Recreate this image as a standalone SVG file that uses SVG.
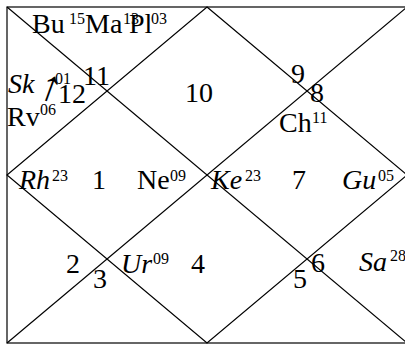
<svg xmlns="http://www.w3.org/2000/svg" width="405" height="344" viewBox="0 0 405 344">
<style>
text{font-family:"Liberation Serif","Times New Roman",serif;fill:#000}
.m{font-size:28px}
.s{font-size:16px}
.i{font-style:italic}
.ar{font-size:44px}
.ln{stroke:#000;stroke-width:1.2;fill:none}
</style>
<rect x="0" y="0" width="405" height="344" fill="#fff"/>
<g id="connectors" class="ln">
<rect x="7" y="7" width="400" height="336"/>
<line x1="7" y1="7" x2="407" y2="343"/>
<line x1="407" y1="7" x2="7" y2="343"/>
<polygon points="207,7 407,175 207,343 7,175"/>
</g>
<g id="house-top-left">
<text class="m" x="32" y="33">Bu</text><text class="s" x="69" y="24">15</text>
<text class="m" x="85" y="33">Ma</text><text class="s" x="123" y="24">13</text>
<text class="m" x="129" y="33">Pl</text><text class="s" x="151" y="24">03</text>
<text class="m" x="83" y="85">11</text>
</g>
<g id="house-left-upper">
<text class="m i" x="8" y="93">Sk</text><text class="ar" x="0" y="0" transform="translate(36 96) rotate(20)">↑</text><text class="s" x="55" y="84">01</text>
<text class="m" x="58" y="103">12</text>
<text class="m" x="7" y="126">Rv</text><text class="s" x="40" y="115">06</text>
</g>
<g id="house-top-center">
<text class="m" x="185" y="102">10</text>
</g>
<g id="house-top-right">
<text class="m" x="291" y="83">9</text>
</g>
<g id="house-right-upper">
<text class="m" x="310" y="102">8</text>
<text class="m" x="279" y="132">Ch</text><text class="s" x="312" y="123">11</text>
</g>
<g id="house-left-center">
<text class="m i" x="19" y="189">Rh</text><text class="s" x="52" y="181">23</text>
<text class="m" x="92" y="189">1</text>
<text class="m" x="137" y="189">Ne</text><text class="s" x="170" y="181">09</text>
</g>
<g id="house-right-center">
<text class="m i" x="211" y="189">Ke</text><text class="s" x="245" y="181">23</text>
<text class="m" x="292" y="189">7</text>
<text class="m i" x="342" y="189">Gu</text><text class="s" x="378" y="181">05</text>
</g>
<g id="house-left-lower">
<text class="m" x="66" y="273">2</text>
</g>
<g id="house-bottom-left">
<text class="m" x="93" y="288">3</text>
</g>
<g id="house-bottom-center">
<text class="m i" x="121" y="273">Ur</text><text class="s" x="153" y="264">09</text>
<text class="m" x="191" y="273">4</text>
</g>
<g id="house-bottom-right">
<text class="m" x="293" y="288">5</text>
</g>
<g id="house-right-lower">
<text class="m" x="311" y="272">6</text>
<text class="m i" x="359" y="271">Sa</text><text class="s" x="390" y="261">28</text>
</g>
</svg>
